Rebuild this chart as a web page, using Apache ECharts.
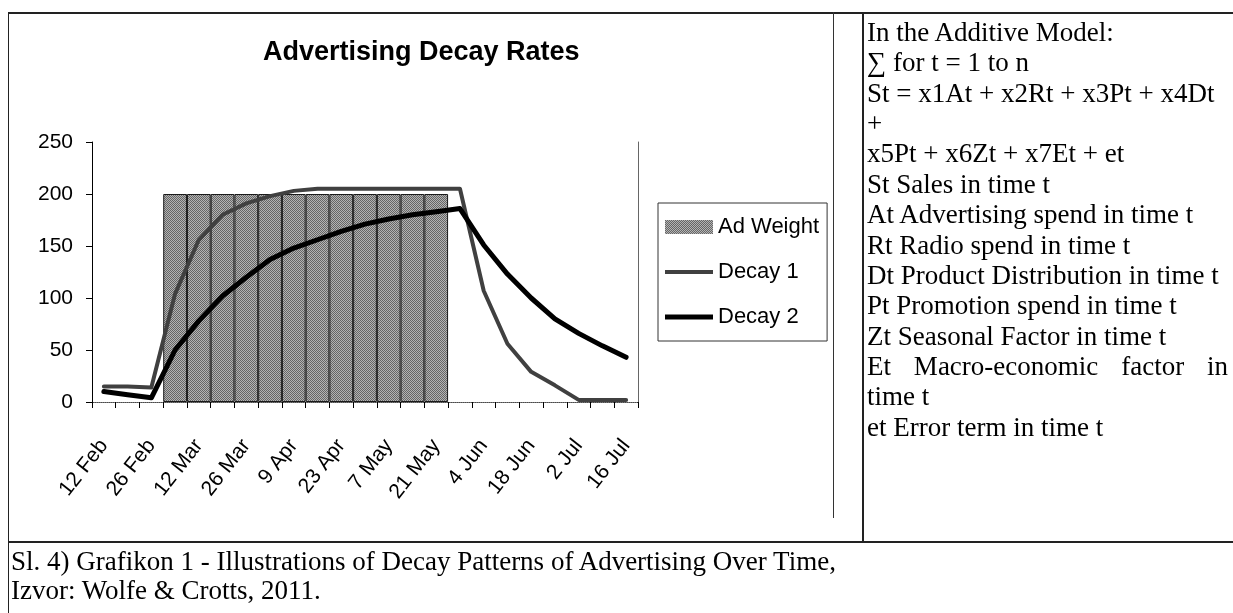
<!DOCTYPE html>
<html>
<head>
<meta charset="utf-8">
<script src="https://cdn.jsdelivr.net/npm/echarts@6/dist/echarts.min.js"></script>
<style>
  html, body { margin: 0; padding: 0; background: #fff; }
  #page { position: relative; width: 1233px; height: 613px; overflow: hidden; background: #fff; }
  #chart { position: absolute; left: 0; top: 0; width: 1233px; height: 613px; }
  .ln { position: absolute; background: #222; }
  .txt { position: absolute; font-family: 'Liberation Serif', 'Times New Roman', serif; color: #000; white-space: nowrap; }
  .txt div { height: 30.4px; line-height: 30.4px; }
  .just { text-align: justify; text-align-last: justify; }
</style>
</head>
<body>
<div id="page">
  <div id="chart"></div>
  <div class="ln" style="left:8px;top:12px;width:1225px;height:1.5px;"></div>
  <div class="ln" style="left:7.5px;top:12px;width:1.5px;height:601px;"></div>
  <div class="ln" style="left:833px;top:12px;width:1px;height:506px;background:#333;"></div>
  <div class="ln" style="left:862px;top:12px;width:1.5px;height:530px;"></div>
  <div class="ln" style="left:8px;top:541px;width:1225px;height:1.5px;"></div>
  <div class="txt" id="side" style="left:867px;top:16.8px;width:361px;font-size:27px;"></div>
  <div class="txt" id="caption" style="left:11px;top:547px;font-size:27px;"></div>
</div>
<script>
// ---------- data ----------
const categories = ['12 Feb','19 Feb','26 Feb','5 Mar','12 Mar','19 Mar','26 Mar','2 Apr','9 Apr','16 Apr',
  '23 Apr','30 Apr','7 May','14 May','21 May','28 May','4 Jun','11 Jun','18 Jun','25 Jun','2 Jul','9 Jul','16 Jul'];
const adWeight = [null, null, null, 200, 200, 200, 200, 200, 200, 200, 200, 200, 200, 200, 200,
  null, null, null, null, null, null, null, null];
const decay1 = [15, 15, 14, 104, 156, 180, 191, 198, 203, 205, 205, 205, 205, 205, 205, 205,
  107, 56, 29, 16, 2, 2, 2];
const decay2 = [10, 7, 4, 50, 78, 102, 120, 137, 148, 156, 164, 171, 176, 180, 183, 186,
  151, 123, 100, 80, 66, 54, 43];
const yMin = 0, yMax = 250, yStep = 50;
const seriesNames = ['Ad Weight', 'Decay 1', 'Decay 2'];
const chartTitle = 'Advertising Decay Rates';
const sideLines = [
  'In the Additive Model:',
  '\u2211 for t = 1 to n',
  'St = x1At + x2Rt + x3Pt + x4Dt',
  '+',
  'x5Pt + x6Zt + x7Et + et',
  'St Sales in time t',
  'At Advertising spend in time t',
  'Rt Radio spend in time t',
  'Dt Product Distribution in time t',
  'Pt Promotion spend in time t',
  'Zt Seasonal Factor in time t',
  'Et Macro-economic factor in',
  'time t',
  'et Error term in time t'
];
const justifiedLines = ['Et Macro-economic factor in'];
const captionLines = [
  'Sl. 4) Grafikon 1 - Illustrations of Decay Patterns of Advertising Over Time,',
  'Izvor: Wolfe & Crotts, 2011.'
];

// ---------- text blocks ----------
const side = document.getElementById('side');
sideLines.forEach(t => {
  const d = document.createElement('div');
  d.textContent = t;
  if (justifiedLines.includes(t)) d.className = 'just';
  side.appendChild(d);
});
const cap = document.getElementById('caption');
captionLines.forEach(t => {
  const d = document.createElement('div');
  d.textContent = t;
  d.style.height = '29px'; d.style.lineHeight = '29px';
  cap.appendChild(d);
});

// ---------- dithered bar pattern ----------
function makePattern() {
  const c = document.createElement('canvas');
  c.width = 2; c.height = 2;
  const g = c.getContext('2d');
  g.fillStyle = '#b4b4b4'; g.fillRect(0, 0, 2, 2);
  g.fillStyle = '#666666'; g.fillRect(0, 0, 1, 1); g.fillRect(1, 1, 1, 1);
  return c;
}
const barFill = { image: makePattern(), repeat: 'repeat' };

const FONT = "'Liberation Sans', Arial, sans-serif";
const chart = echarts.init(document.getElementById('chart'), null, { renderer: 'canvas' });
chart.setOption({
  animation: false,
  backgroundColor: 'transparent',
  title: {
    text: chartTitle,
    left: 263, top: 39,
    padding: 0,
    textStyle: { fontFamily: FONT, fontWeight: 'bold', fontSize: 27, color: '#000' }
  },
  legend: {
    orient: 'vertical',
    left: 658, top: 203,
    padding: [12, 8, 12, 7],
    itemGap: 21,
    itemWidth: 48, itemHeight: 14,
    symbolKeepAspect: true,
    borderColor: '#333', borderWidth: 1,
    backgroundColor: '#fff',
    textStyle: { fontFamily: FONT, fontSize: 22, lineHeight: 24, color: '#000' },
    data: [
      { name: seriesNames[0], icon: 'rect', itemStyle: { borderWidth: 0 } },
      { name: seriesNames[1], icon: 'path://M0,0H48V4H0Z' },
      { name: seriesNames[2], icon: 'path://M0,0H48V5H0Z' }
    ]
  },
  grid: { left: 92, top: 142, width: 546, height: 260, containLabel: false },
  xAxis: [{
    type: 'category',
    data: categories,
    boundaryGap: true,
    axisLine: { show: true, lineStyle: { color: '#000', width: 1 } },
    axisTick: { show: true, interval: 0, length: 6, lineStyle: { color: '#000', width: 1 } },
    axisLabel: { interval: 1, rotate: 52, margin: 40, fontFamily: FONT, fontSize: 21, color: '#000' },
    splitLine: { show: false }
  }, {
    type: 'category',
    data: categories,
    position: 'top',
    axisLine: { show: true, lineStyle: { color: '#777', width: 1, type: 'dotted' } },
    axisTick: { show: false }, axisLabel: { show: false }, splitLine: { show: false }
  }],
  yAxis: [{
    type: 'value',
    min: yMin, max: yMax, interval: yStep,
    axisLine: { show: true, lineStyle: { color: '#000', width: 1 } },
    axisTick: { show: true, length: 6, lineStyle: { color: '#000', width: 1 } },
    axisLabel: { margin: 19, fontFamily: FONT, fontSize: 21, color: '#000' },
    splitLine: { show: false }
  }, {
    type: 'value',
    min: yMin, max: yMax, interval: yStep,
    position: 'right',
    axisLine: { show: true, lineStyle: { color: '#666', width: 1 } },
    axisTick: { show: false }, axisLabel: { show: false }, splitLine: { show: false }
  }],
  series: [
    {
      name: seriesNames[0], type: 'bar', data: adWeight,
      xAxisIndex: 0, yAxisIndex: 0,
      barCategoryGap: '0%', barGap: '0%',
      itemStyle: { color: barFill, borderColor: '#1a1a1a', borderWidth: 1 },
      emphasis: { disabled: true }
    },
    {
      name: seriesNames[1], type: 'line', data: decay1,
      xAxisIndex: 0, yAxisIndex: 0,
      showSymbol: false, symbol: 'none',
      lineStyle: { color: '#404040', width: 4, join: 'round', cap: 'round' },
      itemStyle: { color: '#404040' },
      emphasis: { disabled: true }
    },
    {
      name: seriesNames[2], type: 'line', data: decay2,
      xAxisIndex: 0, yAxisIndex: 0,
      showSymbol: false, symbol: 'none',
      lineStyle: { color: '#000', width: 5, join: 'round', cap: 'round' },
      itemStyle: { color: '#000' },
      emphasis: { disabled: true }
    }
  ]
});
</script>
</body>
</html>
